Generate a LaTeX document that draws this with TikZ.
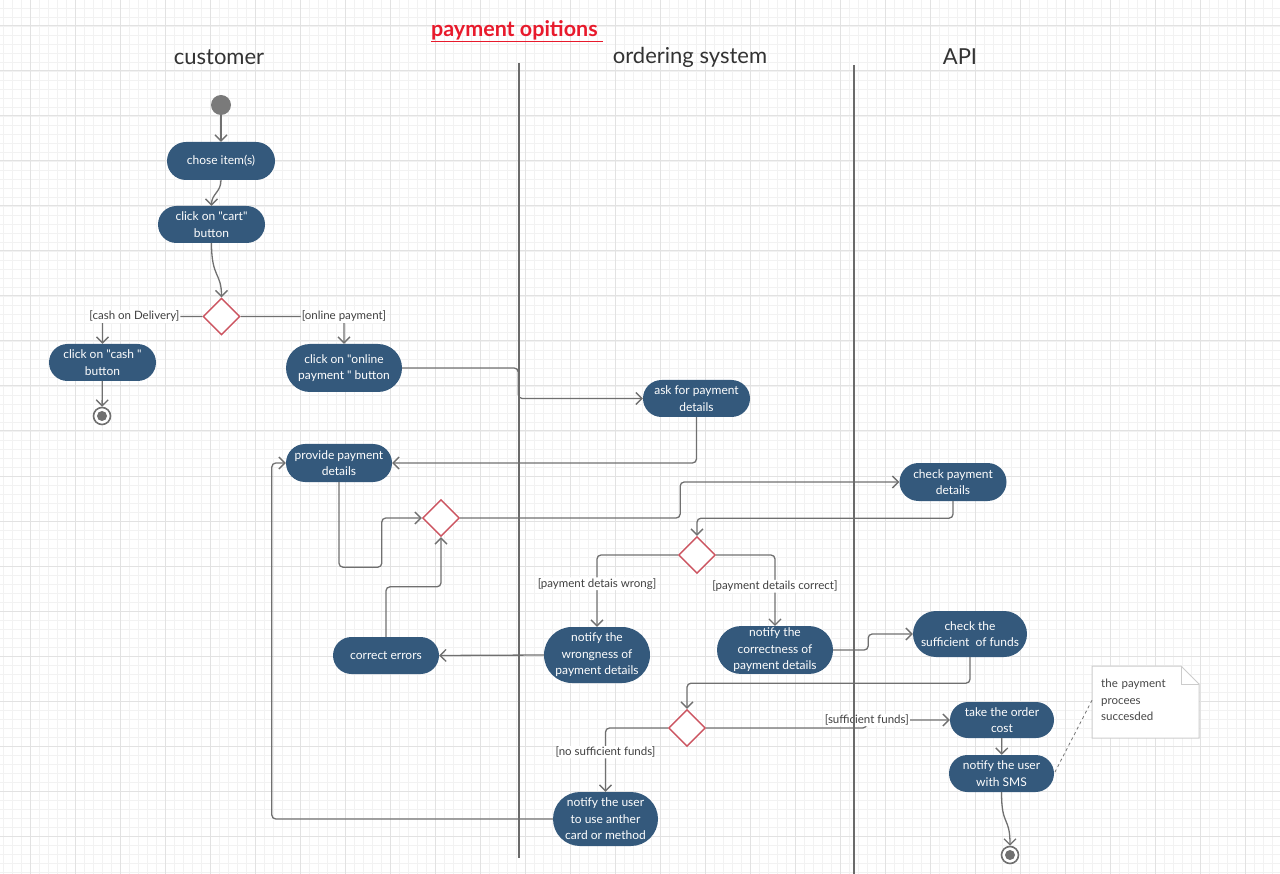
\documentclass[tikz,border=0pt]{standalone}
\usepackage{fontspec}
\setmainfont{Lato}[Ligatures=TeXOff]
\usepackage{tikz}
\usetikzlibrary{positioning}
\usetikzlibrary{arrows.meta,shapes}
\usetikzlibrary{calc}
\definecolor{actblue}{RGB}{52,89,124}
\definecolor{linegray}{RGB}{112,112,112}
\definecolor{decred}{RGB}{204,84,96}
\definecolor{titlered}{RGB}{232,26,44}
\definecolor{gridminor}{RGB}{242,242,242}
\definecolor{gridmajor}{RGB}{226,226,226}
\tikzstyle{activity}=[rounded rectangle,fill=actblue,text=white,align=center,inner sep=2pt,font=\fontsize{12}{16.5}\selectfont]
\tikzstyle{decision}=[diamond,draw=decred,fill=white,line width=1.4pt,minimum size=37pt,inner sep=0pt]
\tikzstyle{startnode}=[circle,fill=black!52,minimum size=20pt,inner sep=0pt]
\tikzstyle{endnode}=[circle,draw=linegray,line width=1.6pt,fill=white,minimum size=17pt,inner sep=0pt,path picture={\fill[linegray] (path picture bounding box.center) circle (5pt);}]
\tikzstyle{edge} = [draw,line width=1.3pt,linegray,rounded corners=4pt,-{Straight Barb[length=6pt,width=12pt]}]
\tikzstyle{guard} = [fill=white,text=black!75,inner sep=1pt,font=\fontsize{11.5}{14}\selectfont]
\tikzstyle{lane} = [draw,line width=1.5pt,black!58]
\tikzstyle{title} = [text=black!80,font=\fontsize{22}{26}\selectfont]
\tikzstyle{notebox} = [anchor=north west,minimum width=107pt,minimum height=72pt,text width=89pt,inner xsep=9pt,align=left,text=black!72,font=\fontsize{11.5}{16.5}\selectfont]

\begin{document}
\begin{tikzpicture}[x=1pt,y=-1pt]
    \useasboundingbox (0,0) rectangle (1280,874);

    % grid paper
    \foreach \x in {3,12,...,1280} \draw[gridminor,line width=0.8pt] (\x,0) -- (\x,874);
    \foreach \y in {8,17,...,874} \draw[gridminor,line width=0.8pt] (0,\y) -- (1280,\y);
    \foreach \x in {30,75,...,1280} \draw[gridmajor,line width=1pt] (\x,0) -- (\x,874);
    \foreach \y in {26,71,...,874} \draw[gridmajor,line width=1pt] (0,\y) -- (1280,\y);

    \node[text=titlered,font=\fontsize{21.5}{24}\selectfont\bfseries] (heading) at (517,31) {\underline{payment opitions\ }};
    \node[title] (customer) at (219,57) {customer};
    \node[title] (ordering) at (690,57) {ordering system};
    \node[title] (api) at (960,57) {API};

    \foreach \pos/\name/\w/\h/\label in {{(221,161)/chose/112/38/{chose item(s)}}, {(211.5,224.5)/cart/111/37/{click on "cart"\\button}}, {(102.5,362.5)/cash/111/37/{click on "cash "\\button}}, {(344,368)/online/120/48/{click on "online\\payment " button}}, {(696.5,398.5)/ask/111/37/{ask for payment\\details}}, {(339,463)/provide/110/38/{provide payment\\details}}, {(386,655.5)/correct/110/37/{correct errors}}, {(953,482)/checkpd/111/38/{check payment\\details}}, {(597,655)/wrong/110/56/{notify the\\wrongness of\\payment details}}, {(775,650)/right/120/47/{notify the\\correctness of\\payment details}}, {(970,634)/suff/118/46/{check the\\sufficient\ \ of funds}}, {(605.5,819)/anther/109/54/{notify the user\\to use anther\\card or method}}, {(1002,720)/take/108/36/{take the order\\cost}}, {(1001.5,773.5)/sms/109/37/{notify the user\\with SMS}}}
        \node[activity,minimum width=\w pt,minimum height=\h pt] (\name) at \pos {\label};

    \foreach \pos/\name in {(221.5,316.5)/d1, (441,518)/d2, (697,555)/d3, (687,728)/d4}
        \node[decision] (\name) at \pos {};

    \node[startnode] (start) at (221,105) {};
    \node[endnode] (end1) at (102,416) {};
    \node[endnode] (end2) at (1010,855) {};

    % note
    \coordinate (noteNW) at (1092,666);
    \draw[black!20,line width=1pt,fill=white] (noteNW) -- ++(89,0) -- ++(18,18) -- ++(0,54) -- ++(-107,0) -- cycle;
    \draw[black!20,line width=1pt] (noteNW) ++(89,0) |- ++(18,18);
    \node[notebox] (note) at ([yshift=2pt]noteNW) {the payment\\procees\\succesded};
    \draw[dashed,black!55,line width=0.8pt] (note.west) -- (sms.east);

    \path[edge] (start) -- (chose);
    \path[edge] (chose.south) .. controls +(0,12) and +(0,-12) .. (cart.north);
    \path[edge] (cart.south) .. controls +(0,35) and +(0,-25) .. (d1.north);
    \path[edge] (d1.west) -| node[guard,pos=0.34] (gcash) {[cash on Delivery]} (cash.north);
    \path[edge] (d1.east) -| node[guard,pos=0.5] (gonline) {[online payment]} (online.north);
    \path[edge] (cash) -- (end1);
    \path[edge] (online.east) -- ++(116,0) |- (ask.west);
    \path[edge] (ask.south) |- (provide.east);
    \path[edge] (provide.south) -- ++(0,85) -| ([xshift=-40pt]d2.west) -- (d2.west);
    \path[edge] (correct.north) -- ++(0,-50) -| (d2.south);
    \path[edge] (d2.east) -- ++(220,0) |- (checkpd.west);
    \path[edge] (checkpd.south) -- ++(0,17) -| (d3.north);
    \path[edge] (d3.west) -| node[guard,pos=0.7] (gwrong) {[payment detais wrong]} (wrong.north);
    \path[edge] (d3.east) -| node[guard,pos=0.72] (gright) {[payment details correct]} (right.north);
    \path[edge] (wrong.west) -- (correct.east);
    \path[edge] (right.east) -- ++(35,0) |- (suff.west);
    \path[edge] (suff.south) -- ++(0,26) -| (d4.north);
    \path[edge] (d4.west) -| node[guard,pos=0.69] (gnofunds) {[no sufficient funds]} (anther.north);
    \path[edge] (d4.east) -| ([xshift=-83pt]take.west) node[guard] (gfunds) {[sufficient funds]} -- (take.west);
    \path[edge] (take) -- (sms);
    \path[edge] (sms.south) .. controls +(0,35) and +(0,-30) .. (end2.north);
    \path[edge] (anther.west) -| ([xshift=-14pt]provide.west) -- (provide.west);

    % swimlanes
    \draw[lane] (519,63) -- (519,858);
    \draw[lane] (854,65) -- (854,874);
\end{tikzpicture}
\end{document}
